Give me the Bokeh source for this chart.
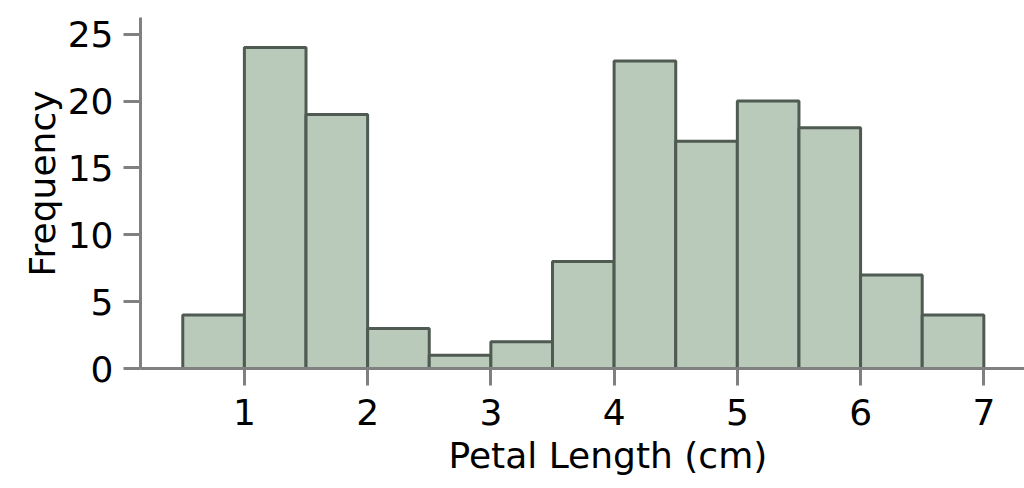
from bokeh.plotting import figure
from bokeh.models import Range1d, FixedTicker, Title
from bokeh.embed import file_html
from bokeh.resources import INLINE

# Histogram of petal length (bin edges in cm, counts)
bin_edges = [0.5, 1.0, 1.5, 2.0, 2.5, 3.0, 3.5, 4.0, 4.5, 5.0, 5.5, 6.0, 6.5, 7.0]
counts = [4, 24, 19, 3, 1, 2, 8, 23, 17, 20, 18, 7, 4]
x_ticks = [1, 2, 3, 4, 5, 6, 7]
y_ticks = [0, 5, 10, 15, 20, 25]
x_title = "Petal Length (cm)"
y_title = "Frequency"

FONT = "DejaVu Sans"
FS = "36px"

p = figure(width=1024, height=488, output_backend="svg", toolbar_location=None,
           x_range=Range1d(0.157, 7.33), y_range=Range1d(0, 26.25),
           min_border_left=140, min_border_right=0, min_border_top=17,
           min_border_bottom=120)

p.quad(left=bin_edges[:-1], right=bin_edges[1:], top=counts, bottom=0,
       fill_color="#b9c9ba", line_color="#4f5a52", line_width=3)

p.outline_line_color = None
p.grid.grid_line_color = None
p.background_fill_color = "white"
p.border_fill_color = "white"

for ax in (p.xaxis[0], p.yaxis[0]):
    ax.axis_line_color = "#808080"
    ax.axis_line_width = 3
    ax.major_tick_line_color = "#808080"
    ax.major_tick_line_width = 3
    ax.major_tick_out = 17
    ax.major_tick_in = 0
    ax.minor_tick_line_color = None
    ax.major_label_text_font = FONT
    ax.major_label_text_font_size = FS
    ax.major_label_text_color = "black"

p.xaxis.ticker = FixedTicker(ticks=x_ticks)
p.yaxis.ticker = FixedTicker(ticks=y_ticks)
p.xaxis.major_label_standoff = 13
p.yaxis.major_label_standoff = 10

# axis titles, positioned as in the original
p.add_layout(Title(text=x_title, align="left", offset=308, standoff=10,
                   text_font=FONT, text_font_size=FS, text_font_style="normal",
                   text_color="black"), "below")
p.add_layout(Title(text=y_title, align="left", offset=92, standoff=4,
                   text_font=FONT, text_font_size=FS, text_font_style="normal",
                   text_color="black"), "left")

open("out.html", "w").write(file_html(p, INLINE))
